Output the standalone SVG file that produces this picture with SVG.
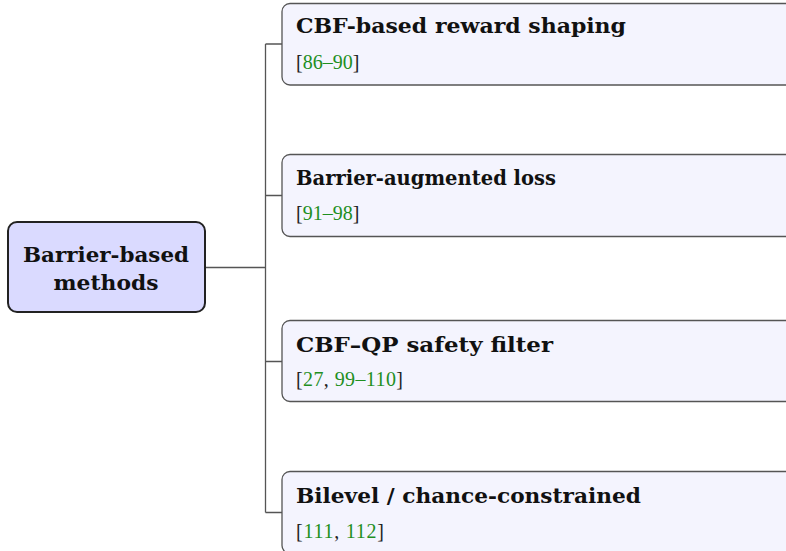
<svg xmlns="http://www.w3.org/2000/svg" width="786" height="551" viewBox="0 0 786 551">
<style>
.root{fill:#dadaff;stroke:#222;stroke-width:2}
.child{fill:#f4f4fe;stroke:#555;stroke-width:1.3}
.conn{fill:none;stroke:#555;stroke-width:1.3}
.t{font-family:"DejaVu Serif","Liberation Serif",serif;font-weight:bold;font-size:19.5px;fill:#111}
.r{font-family:"Liberation Serif",serif;font-size:20px;fill:#222}
.g{fill:#1f8f1f}
</style>
<rect width="786" height="551" fill="#fff"/>
<g id="connectors">
<path class="conn" d="M205,267.5 H265.5 M265.5,44 V512.5 M265.5,44 H282 M265.5,195.5 H282 M265.5,361.5 H282 M265.5,512.5 H282"/>
</g>
<g id="root">
<rect class="root" x="8" y="222" width="197" height="90" rx="9"/>
<text class="t" x="106" y="262" text-anchor="middle" textLength="166" lengthAdjust="spacingAndGlyphs">Barrier-based</text>
<text class="t" x="106" y="290" text-anchor="middle" textLength="105" lengthAdjust="spacingAndGlyphs">methods</text>
</g>
<g id="n1">
<rect class="child" x="282" y="3.5" width="520" height="81.5" rx="8"/>
<text class="t" x="296" y="33" textLength="330" lengthAdjust="spacingAndGlyphs">CBF-based reward shaping</text>
<text class="r" x="296" y="68.5">[<tspan class="g">86–90</tspan>]</text>
</g>
<g id="n2">
<rect class="child" x="282" y="154.5" width="520" height="82" rx="8"/>
<text class="t" x="296" y="185" textLength="260" lengthAdjust="spacingAndGlyphs">Barrier-augmented loss</text>
<text class="r" x="296" y="220">[<tspan class="g">91–98</tspan>]</text>
</g>
<g id="n3">
<rect class="child" x="282" y="320.5" width="520" height="81" rx="8"/>
<text class="t" x="296" y="352" textLength="257" lengthAdjust="spacingAndGlyphs">CBF–QP safety filter</text>
<text class="r" x="296" y="386" textLength="107" lengthAdjust="spacing">[<tspan class="g">27</tspan>, <tspan class="g">99–110</tspan>]</text>
</g>
<g id="n4">
<rect class="child" x="282" y="471.5" width="520" height="82" rx="8"/>
<text class="t" x="296" y="503" textLength="345" lengthAdjust="spacingAndGlyphs">Bilevel / chance-constrained</text>
<text class="r" x="296" y="537.5" textLength="88" lengthAdjust="spacing">[<tspan class="g">111</tspan>, <tspan class="g">112</tspan>]</text>
</g>
</svg>
